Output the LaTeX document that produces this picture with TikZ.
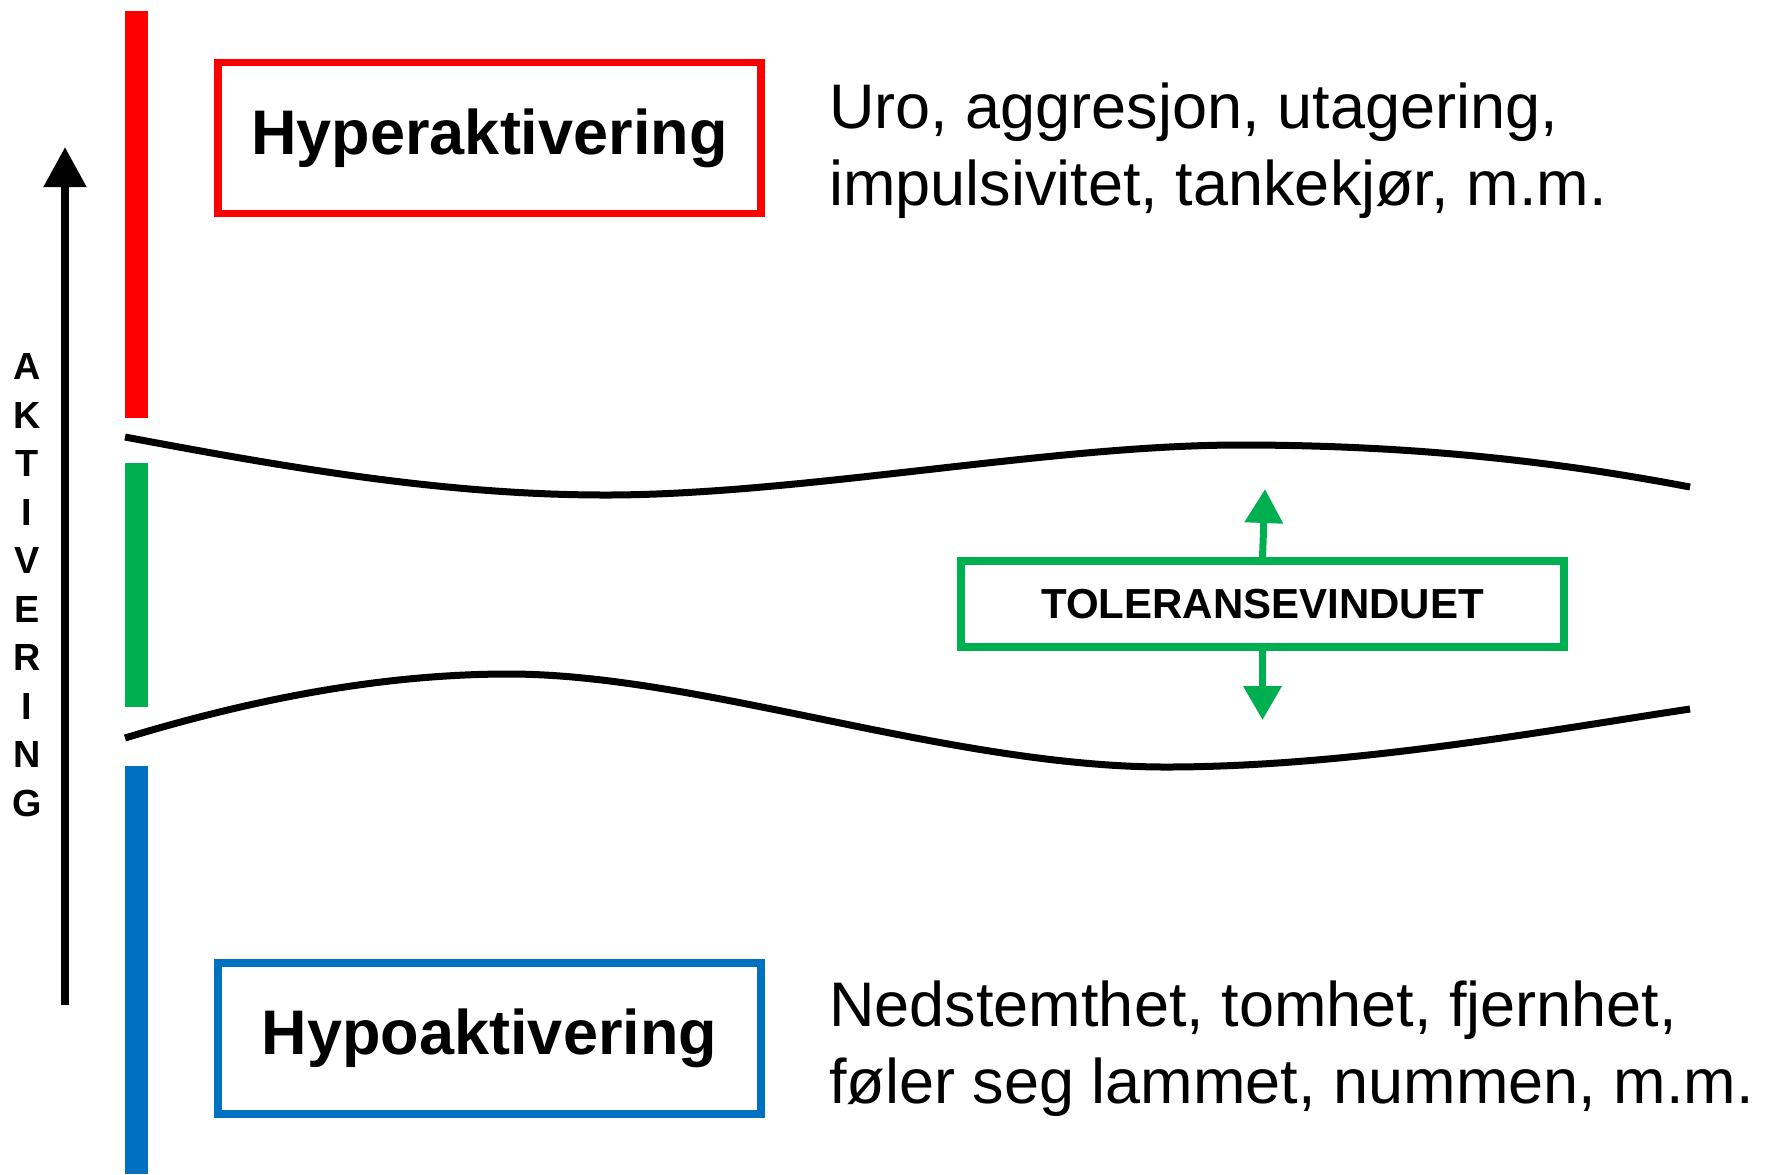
\documentclass[tikz,border=0pt]{standalone}
\usepackage{fontspec}
\setmainfont{Liberation Sans}
\usetikzlibrary{arrows.meta}
\definecolor{hyperred}{HTML}{FF0000}
\definecolor{windowgreen}{HTML}{00B050}
\definecolor{hypoblue}{HTML}{0070C0}

\begin{document}
\begin{tikzpicture}[
  x=0.5pt, y=-0.5pt,
  levelbox/.style={rectangle, draw, line width=3.8pt, minimum width=271.5pt, minimum height=75.5pt, inner sep=0pt, font=\bfseries\fontsize{31.5}{38}\selectfont},
  note/.style={anchor=base west, align=left, inner sep=0pt, font=\fontsize{31.5}{38.5}\selectfont},
  wave/.style={line width=3.5pt},
  push/.style={windowgreen, line width=3.5pt, -{Triangle[length=17pt,width=18.5pt]}}
  ]
  \useasboundingbox (0,0) rectangle (1775,1174);

  \fill[hyperred] (125,11) rectangle (148,418);
  \fill[windowgreen] (125,463) rectangle (148,707);
  \fill[hypoblue] (125,766) rectangle (148,1174);

  \coordinate (abase) at (65,1005);
  \coordinate (atop) at (65,147);
  \draw[line width=4pt, -{Triangle[length=20pt,width=20.5pt]}] (abase) -- (atop);
  \node[align=center, inner sep=0pt, font=\bfseries\fontsize{18.9}{24.25}\selectfont] (akt) at (27,585) {A\\K\\T\\I\\V\\E\\R\\I\\N\\G};

  \node[levelbox, draw=hyperred] (hyper) at (489.5,138) {Hyperaktivering};
  \node[levelbox, draw=hypoblue] (hypo) at (489.5,1038.5) {Hypoaktivering};

  \node[note] (hypertext) at (829,205) {Uro, aggresjon, utagering,\\impulsivitet, tankekjør, m.m.};
  \node[note] (hypotext) at (829,1103) {Nedstemthet, tomhet, fjernhet,\\føler seg lammet, nummen, m.m.};

  \draw[wave] (125,437) .. controls (300,470) and (450,495) .. (606,495)
    .. controls (800,495) and (1050,445) .. (1240,445)
    .. controls (1450,445) and (1600,470) .. (1690,487);
  \draw[wave] (125,738) .. controls (250,700) and (380,674) .. (509,674)
    .. controls (700,674) and (950,767) .. (1166,767)
    .. controls (1350,767) and (1550,730) .. (1690,709);

  \node[levelbox, draw=windowgreen, minimum width=301.5pt, minimum height=43pt, font=\bfseries\fontsize{21}{25}\selectfont] (window) at (1262.5,604) {TOLERANSEVINDUET};
  \coordinate (wup) at (1265,489);
  \coordinate (wdown) at (1262.5,720);
  \draw[push] (window.north) -- (wup);
  \draw[push] (window.south) -- (wdown);
\end{tikzpicture}
\end{document}
